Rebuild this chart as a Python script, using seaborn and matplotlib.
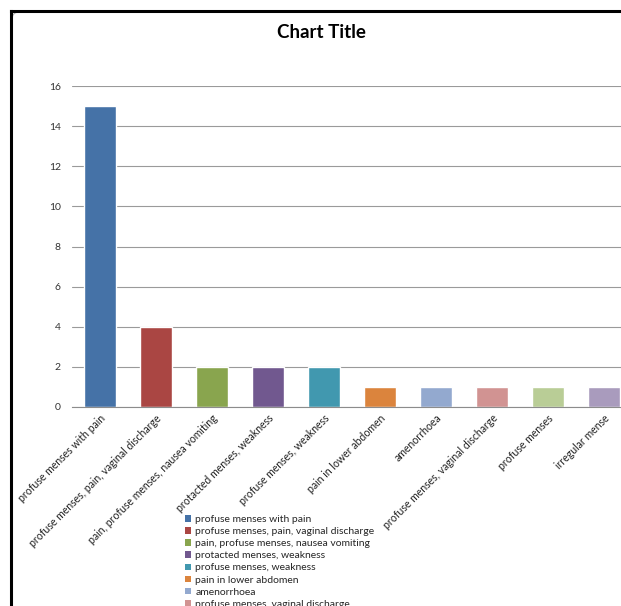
import matplotlib
matplotlib.use("Agg")
import matplotlib.pyplot as plt
import seaborn as sns
import pandas as pd
from matplotlib.patches import FancyBboxPatch, Patch
from matplotlib.lines import Line2D

categories = ["profuse menses with pain", "profuse menses, pain, vaginal discharge",
              "pain, profuse menses, nausea vomiting", "protacted menses, weakness",
              "profuse menses, weakness", "pain in lower abdomen", "amenorrhoea",
              "profuse menses, vaginal discharge", "profuse menses", "irregular mense"]
values = [15, 4, 2, 2, 2, 1, 1, 1, 1, 1]
colors = ["#4572A7", "#AA4643", "#89A54E", "#71588F", "#4198AF",
          "#DB843D", "#93A9CF", "#D19392", "#B9CD96", "#A99BBD"]
yticks = [0, 2, 4, 6, 8, 10, 12, 14, 16]

sns.set_style("white")
plt.rcParams['font.family'] = ['Lato', 'DejaVu Sans']

df = pd.DataFrame({"cat": categories, "val": values})

W, H = 621, 606
fig = plt.figure(figsize=(W / 100, H / 100), dpi=100)
ax = fig.add_axes([72 / W, 1 - 407 / H, 560 / W, (407 - 86) / H])

sns.barplot(data=df, x="cat", y="val", hue="cat", palette=colors, dodge=False,
            width=0.57, legend=False, ax=ax, saturation=1)

ax.set_ylim(0, 16)
ax.set_xlim(-0.5, len(categories) - 0.5)
ax.set_yticks(yticks)
ax.set_yticklabels([str(t) for t in yticks], fontsize=7.5, color="#333333")
ax.yaxis.grid(True, color="#9a9a9a", linewidth=0.8)
ax.set_axisbelow(True)
for s in ["top", "right", "left"]:
    ax.spines[s].set_visible(False)
ax.spines["bottom"].set_color("#8c8c8c")
ax.spines["bottom"].set_linewidth(0.8)
ax.tick_params(axis="y", length=0, pad=8)
ax.tick_params(axis="x", length=0, pad=4)
ax.set_xticks(range(len(categories)))
ax.set_xticklabels(categories, rotation=45, ha="right", rotation_mode="anchor",
                   fontsize=7.6, color="#222222")
ax.set_xlabel("")
ax.set_ylabel("")

fig.text(321 / W, 1 - 33 / H, "Chart Title", ha="center", va="center",
         fontsize=13.5, fontweight="bold", color="#000000")

handles = [Patch(facecolor=c, edgecolor="none") for c in colors]
fig.legend(handles, categories, loc="upper left", bbox_to_anchor=(185 / W, 1 - 515 / H),
           frameon=False, fontsize=7.5, handlelength=0.6, handleheight=0.6,
           handletextpad=0.4, labelspacing=0.3, borderpad=0, borderaxespad=0)

# outer black frame (square corner at top-left)
fig.add_artist(Line2D([11 / W, 11 / W], [0, 1 - 11 / H], transform=fig.transFigure,
                      color="black", linewidth=2.2, solid_capstyle="projecting"))
fig.add_artist(Line2D([11 / W, 1], [1 - 11 / H, 1 - 11 / H], transform=fig.transFigure,
                      color="black", linewidth=2.2, solid_capstyle="projecting"))
# faint inner rounded chart-area border
inner = FancyBboxPatch((12 / W, -0.3), 1.5, 1 - 12 / H + 0.3,
                       boxstyle="round,pad=0,rounding_size=0.012",
                       transform=fig.transFigure, facecolor="none",
                       edgecolor="#b0b0b0", linewidth=0.8, clip_on=False, zorder=-1)
fig.patches.append(inner)

fig.savefig("out.png", dpi=100)
